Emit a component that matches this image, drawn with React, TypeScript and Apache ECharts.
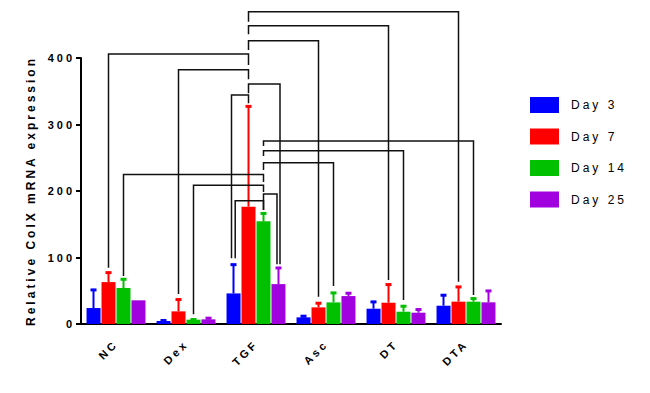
import React, { useEffect, useRef } from "react";
import * as echarts from "echarts";

const categories = ["NC", "Dex", "TGF", "Asc", "DT", "DTA"];
const seriesNames = ["Day 3", "Day 7", "Day 14", "Day 25"];
const yTicks = [0, 100, 200, 300, 400];

const day3 = [24, 4.5, 46, 10, 23, 27.5];
const day3Top = [52, 6, 90, 12.5, 34, 44];
const day7 = [63, 19, 176.5, 25, 32, 33.6];
const day7Top = [78, 37.5, 328, 32, 60, 56.5];
const day14 = [54, 6.5, 154.5, 32.5, 18.5, 33.6];
const day14Top = [68, 7.5, 167, 47.5, 27.5, 39];
const day25 = [35.6, 7, 60, 42, 17, 32.6];
const day25Top = [35.6, 9.5, 85, 47, 22.5, 50.5];

// [category1, day1, category2, day2, bracket level, leg1 end, leg2 end]
const brackets = [
  [2, 1, 5, 1, 469.6, 454.6, 63.6],
  [2, 1, 4, 1, 448.6, 435.6, 66.2],
  [2, 1, 3, 1, 426, 412, 41],
  [0, 1, 2, 1, 406, 84.7, 389.5],
  [1, 1, 2, 1, 382.4, 45, 368],
  [2, 1, 2, 3, 361, 347, 89.8],
  [2, 0, 2, 1, 344.4, 98.8, 332],
  [2, 2, 5, 2, 275.2, 267.7, 43.6],
  [2, 2, 4, 2, 260.6, 252.6, 36],
  [2, 2, 3, 2, 242.6, 231.6, 57],
  [0, 2, 2, 2, 225, 72, 213.5],
  [1, 2, 2, 2, 208.6, 14.6, 198.5],
  [2, 2, 2, 3, 195.5, 171.4, 89.8],
  [2, 0, 2, 2, 185.4, 98.8, 171.4],
];

const COLORS = ["#0000FF", "#FF0000", "#00C000", "#A100DF"];
const BAR_W = 14;
const BAR_STEP = 15;
const FONT = "Liberation Sans";
// small horizontal nudges (px) for legs that would otherwise coincide
const LEG_NUDGE: Record<string, number> = { "6-0": -2, "13-0": 1.7, "5-1": 1.5, "12-1": -1.5 };

export default function App() {
  const ref = useRef<HTMLDivElement>(null);
  useEffect(() => {
    if (!ref.current) return;
    const chart = echarts.init(ref.current, undefined, { renderer: "svg" });
    const vals = [day3, day7, day14, day25];
    const tops = [day3Top, day7Top, day14Top, day25Top];

    const barSeries = vals.map((v, si) => ({
      type: "bar",
      name: seriesNames[si],
      data: v,
      barWidth: BAR_W,
      barGap: "7%",
      itemStyle: { color: COLORS[si] },
      z: 2,
    }));

    const errSeries = vals.map((v, si) => ({
      type: "custom",
      name: seriesNames[si] + " err",
      silent: true,
      clip: false,
      z: 3,
      encode: { x: 0, y: [1, 2] },
      data: v.map((val, i) => [i, val, tops[si][i]]),
      renderItem: (_p: any, api: any) => {
        const c = api.value(0);
        const val = api.value(1);
        const t = api.value(2);
        if (!(t > val)) return { type: "group", children: [] };
        const b = api.coord([c, val]);
        const tp = api.coord([c, t]);
        const x = b[0] + (si - 1.5) * BAR_STEP;
        return {
          type: "group",
          children: [
            { type: "line", shape: { x1: x, y1: b[1], x2: x, y2: tp[1] }, style: { stroke: COLORS[si], lineWidth: 2 } },
            { type: "rect", shape: { x: x - 3, y: tp[1] - 1, width: 6, height: 3 }, style: { fill: COLORS[si] } },
          ],
        };
      },
    }));

    const bracketSeries = {
      type: "custom",
      name: "brackets",
      silent: true,
      clip: false,
      z: 4,
      encode: { x: 0, y: 4 },
      data: brackets,
      renderItem: (p: any, api: any) => {
        const c1 = api.value(0), s1 = api.value(1), c2 = api.value(2), s2 = api.value(3);
        const lvl = api.value(4), e1 = api.value(5), e2 = api.value(6);
        const a = api.coord([c1, lvl]);
        const b = api.coord([c2, lvl]);
        const x1 = a[0] + (s1 - 1.5) * BAR_STEP + (LEG_NUDGE[p.dataIndex + "-0"] || 0);
        const x2 = b[0] + (s2 - 1.5) * BAR_STEP + (LEG_NUDGE[p.dataIndex + "-1"] || 0);
        const y1 = api.coord([c1, e1])[1];
        const y2 = api.coord([c2, e2])[1];
        return {
          type: "polyline",
          shape: { points: [[x1, y1], [x1, a[1]], [x2, a[1]], [x2, y2]] },
          style: { stroke: "#111", lineWidth: 1.5, fill: null },
        };
      },
    };

    chart.setOption({
      animation: false,
      grid: { left: 81, right: 149, top: 58, bottom: 69 },
      legend: {
        data: seriesNames,
        orient: "vertical",
        left: 530,
        top: 97,
        padding: 0,
        itemWidth: 29,
        itemHeight: 16,
        itemGap: 15.5,
        icon: "rect",
        textStyle: { fontFamily: FONT, fontSize: 12, color: "#000", padding: [0, 0, 0, 7] },
      },
      xAxis: {
        type: "category",
        data: categories,
        axisLine: { lineStyle: { color: "#000", width: 2 } },
        axisTick: { alignWithLabel: true, length: 6, lineStyle: { color: "#000", width: 2 } },
        axisLabel: { rotate: 45, margin: 18, fontFamily: FONT, fontWeight: "bold", fontSize: 11, color: "#000" },
      },
      yAxis: {
        type: "value",
        min: yTicks[0],
        max: yTicks[yTicks.length - 1],
        interval: yTicks[1] - yTicks[0],
        name: "Relative ColX mRNA expression",
        nameLocation: "middle",
        nameGap: 44,
        nameTextStyle: { fontFamily: FONT, fontWeight: "bold", fontSize: 12, color: "#000" },
        axisLine: { show: true, lineStyle: { color: "#000", width: 2 } },
        axisTick: { show: true, length: 5, lineStyle: { color: "#000", width: 2 } },
        axisLabel: { margin: 6, fontFamily: FONT, fontWeight: "bold", fontSize: 11, color: "#000" },
        splitLine: { show: false },
      },
      series: [...barSeries, ...errSeries, bracketSeries],
    });
    return () => chart.dispose();
  }, []);
  return (
    <>
      <style>{".chart-host text{letter-spacing:3px}"}</style>
      <div
        ref={ref}
        className="chart-host"
        style={{ position: "fixed", left: 0, top: 0, width: 650, height: 393, background: "#fff" }}
      />
    </>
  );
}
